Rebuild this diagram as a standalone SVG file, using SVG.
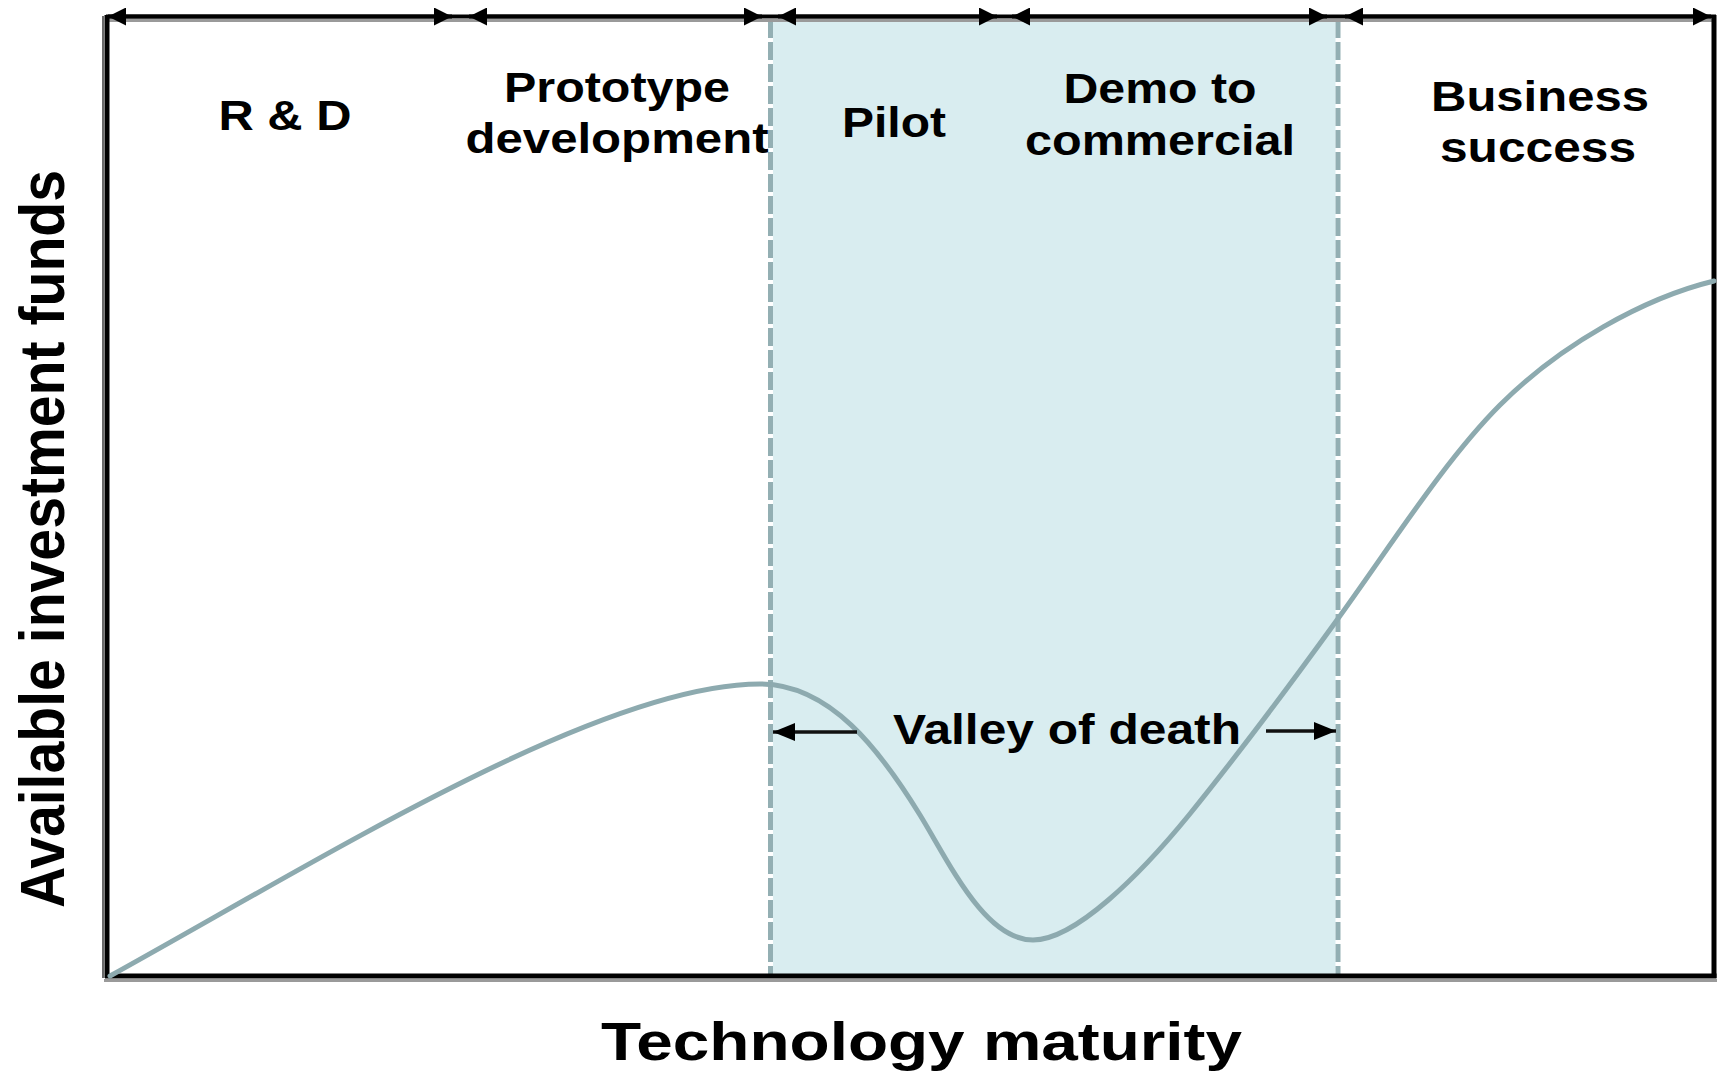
<svg xmlns="http://www.w3.org/2000/svg" width="1719" height="1074" viewBox="0 0 1719 1074">
  <style>
    .lbl { font-family: "Liberation Sans", Arial, sans-serif; font-weight: bold; font-size: 42px; fill: #000; text-anchor: middle; }
    .axis { font-family: "Liberation Sans", Arial, sans-serif; font-weight: bold; fill: #000; }
    .frame { stroke: #000; stroke-width: 5; fill: none; }
    .shadow { stroke: #9a9a9a; stroke-width: 3; fill: none; }
    .dash-under { stroke: #ffffff; stroke-width: 5; }
    .dash { stroke: #93AFB3; stroke-width: 5; stroke-dasharray: 18 4; }
    .curve { stroke: #8DAAAF; stroke-width: 5; fill: none; stroke-linecap: round; stroke-linejoin: round; }
    .topArrow { stroke: #000; stroke-width: 4; fill: none; }
    .valArrow { stroke: #111; stroke-width: 3.5; fill: none; }
  </style>
  <defs>
    <marker id="headTop" markerUnits="userSpaceOnUse" markerWidth="18" markerHeight="18" viewBox="0 0 18 18" refX="18" refY="9" orient="auto-start-reverse">
      <path d="M0,0 L18,9 L0,18 Z" fill="#000"/>
    </marker>
    <marker id="headVal" markerUnits="userSpaceOnUse" markerWidth="22" markerHeight="18" viewBox="0 0 22 18" refX="22" refY="9" orient="auto-start-reverse">
      <path d="M0,0 L22,9 L0,18 Z" fill="#000"/>
    </marker>
  </defs>

  <rect width="1719" height="1074" fill="#ffffff"/>

  <g id="valley-zone">
    <rect x="770" y="19" width="568" height="955" fill="#D9EDF0"/>
    <line class="dash-under" x1="770.5" y1="20" x2="770.5" y2="974"/>
    <line class="dash" x1="770.5" y1="20" x2="770.5" y2="974"/>
    <line class="dash-under" x1="1338" y1="20" x2="1338" y2="974"/>
    <line class="dash" x1="1338" y1="20" x2="1338" y2="974"/>
  </g>

  <g id="frame">
    <line class="shadow" x1="106" y1="20.5" x2="1716" y2="20.5"/>
    <line class="shadow" x1="104" y1="980.5" x2="1717" y2="980.5" stroke="#bcbcbc"/>
    <line x1="103" y1="16" x2="103" y2="978" stroke="#6a6a6a" stroke-width="2"/>
    <line class="frame" x1="107" y1="15" x2="107" y2="978"/>
    <line class="frame" x1="1714" y1="15" x2="1714" y2="978"/>
    <line class="frame" x1="105" y1="976" x2="1716.5" y2="976"/>
    <line class="topArrow" x1="106" y1="16.5" x2="1716" y2="16.5"/>
  </g>

  <g id="funds-curve">
    <path class="curve" d="M110,976 C320,860 600,684 760,684 C830,684 880,750 920,815 C950,864 985,940 1033,940 C1075,940 1140,875 1189,815 C1240,752 1290,685 1337,620 C1392,544 1445,460 1500,405 C1560,345 1644,298 1714,281"/>
  </g>

  <g id="connectors">
    <line class="topArrow" x1="108" y1="16.5" x2="452" y2="16.5" marker-start="url(#headTop)" marker-end="url(#headTop)"/>
    <line class="topArrow" x1="469" y1="16.5" x2="762" y2="16.5" marker-start="url(#headTop)" marker-end="url(#headTop)"/>
    <line class="topArrow" x1="778" y1="16.5" x2="997" y2="16.5" marker-start="url(#headTop)" marker-end="url(#headTop)"/>
    <line class="topArrow" x1="1012" y1="16.5" x2="1327" y2="16.5" marker-start="url(#headTop)" marker-end="url(#headTop)"/>
    <line class="topArrow" x1="1345" y1="16.5" x2="1711" y2="16.5" marker-start="url(#headTop)" marker-end="url(#headTop)"/>
    <line class="valArrow" x1="857" y1="732" x2="773" y2="732" marker-end="url(#headVal)"/>
    <line class="valArrow" x1="1266" y1="731" x2="1336" y2="731" marker-end="url(#headVal)"/>
  </g>

  <g id="phase-rd">
    <text class="lbl" x="285" y="130" textLength="133" lengthAdjust="spacingAndGlyphs">R &amp; D</text>
  </g>
  <g id="phase-prototype">
    <text class="lbl" x="617" y="102" textLength="226" lengthAdjust="spacingAndGlyphs">Prototype</text>
    <text class="lbl" x="617" y="153" textLength="303" lengthAdjust="spacingAndGlyphs">development</text>
  </g>
  <g id="phase-pilot">
    <text class="lbl" x="894" y="137" textLength="104" lengthAdjust="spacingAndGlyphs">Pilot</text>
  </g>
  <g id="phase-demo">
    <text class="lbl" x="1160" y="103" textLength="193" lengthAdjust="spacingAndGlyphs">Demo to</text>
    <text class="lbl" x="1160" y="155" textLength="270" lengthAdjust="spacingAndGlyphs">commercial</text>
  </g>
  <g id="phase-business">
    <text class="lbl" x="1540" y="111" textLength="218" lengthAdjust="spacingAndGlyphs">Business</text>
    <text class="lbl" x="1538" y="162" textLength="196" lengthAdjust="spacingAndGlyphs">success</text>
  </g>
  <g id="valley-label">
    <text class="lbl" x="1067" y="744" textLength="348" lengthAdjust="spacingAndGlyphs">Valley of death</text>
  </g>

  <g id="x-axis-label">
    <text class="axis" x="921.5" y="1060" font-size="53" text-anchor="middle" textLength="641" lengthAdjust="spacingAndGlyphs">Technology maturity</text>
  </g>
  <g id="y-axis-label">
    <text class="axis" transform="translate(64,908) scale(1.12,1) rotate(-90)" x="0" y="0" font-size="57" textLength="738" lengthAdjust="spacingAndGlyphs">Available investment funds</text>
  </g>
</svg>
